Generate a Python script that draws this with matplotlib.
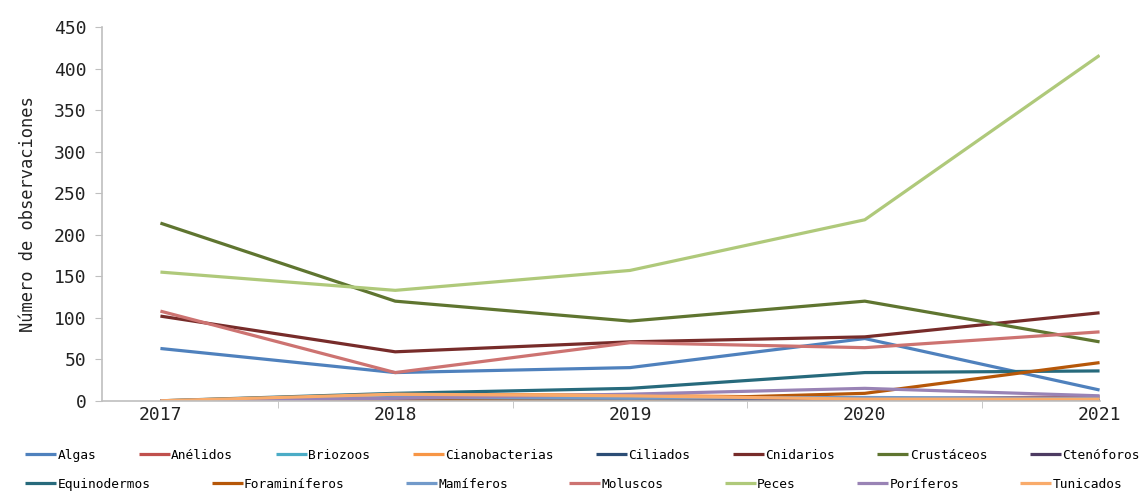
import matplotlib
matplotlib.use("Agg")
import matplotlib.pyplot as plt
from matplotlib.ticker import FixedLocator

plt.rcParams["font.family"] = ["DejaVu Sans Mono"]

years = ["2017", "2018", "2019", "2020", "2021"]

algas = [63, 34, 40, 75, 13]
anelidos = [0, 1, 1, 2, 5]
briozoos = [0, 0, 0, 0, 0]
cianobacterias = [0, 8, 7, 3, 1]
ciliados = [0, 1, 0, 0, 0]
cnidarios = [102, 59, 71, 77, 106]
crustaceos = [214, 120, 96, 120, 71]
ctenoforos = [0, 2, 1, 0, 0]
equinodermos = [0, 9, 15, 34, 36]
foraminiferos = [0, 0, 1, 9, 46]
mamiferos = [0, 4, 3, 4, 3]
moluscos = [108, 34, 70, 64, 83]
peces = [155, 133, 157, 218, 416]
poriferos = [0, 3, 8, 15, 6]
tunicados = [0, 8, 6, 2, 2]

series = [
    ("Algas", algas, "#4F81BD"),
    ("Anélidos", anelidos, "#C0504D"),
    ("Briozoos", briozoos, "#4BACC6"),
    ("Cianobacterias", cianobacterias, "#F79646"),
    ("Ciliados", ciliados, "#2C4D75"),
    ("Cnidarios", cnidarios, "#772C2A"),
    ("Crustáceos", crustaceos, "#5F7530"),
    ("Ctenóforos", ctenoforos, "#4D3B62"),
    ("Equinodermos", equinodermos, "#276A7C"),
    ("Foraminíferos", foraminiferos, "#B65708"),
    ("Mamíferos", mamiferos, "#729ACA"),
    ("Moluscos", moluscos, "#CD7371"),
    ("Peces", peces, "#AFC97A"),
    ("Poríferos", poriferos, "#9983B5"),
    ("Tunicados", tunicados, "#F9AB6B"),
]

fig = plt.figure(figsize=(11.43, 4.93), dpi=100)
ax = fig.add_axes([0.089, 0.187, 0.873, 0.758])

x = list(range(len(years)))
handles = []
for name, vals, color in series:
    h, = ax.plot(x, vals, color=color, lw=2.3, label=name, solid_capstyle="butt")
    handles.append(h)

ax.set_xlim(-0.25, 4.0)
ax.set_ylim(0, 450)
ax.set_yticks(range(0, 451, 50))
ax.set_xticks(x)
ax.set_xticklabels(years, fontsize=13, color="#222222")
ax.tick_params(axis="x", which="major", length=0, pad=4)
ax.xaxis.set_minor_locator(FixedLocator([0.5, 1.5, 2.5, 3.5]))
ax.tick_params(axis="x", which="minor", length=5, color="#BFBFBF")
ax.tick_params(axis="y", length=5, color="#BFBFBF", labelsize=13,
               labelcolor="#222222", pad=6)
ax.set_ylabel("Número de observaciones", fontsize=12.3, color="#222222", labelpad=12)

for side in ["top", "right"]:
    ax.spines[side].set_visible(False)
for side in ["left", "bottom"]:
    ax.spines[side].set_color("#BFBFBF")
    ax.spines[side].set_linewidth(1.2)

# two legend rows laid out independently
leg_kw = dict(frameon=False, fontsize=9.3, handlelength=2.4, handletextpad=0.1,
              mode="expand", borderaxespad=0, borderpad=0, loc="center left")
fig.legend(handles=handles[:8], ncol=8,
           bbox_to_anchor=(0.022, 0.077, 0.975, 0.0), **leg_kw)
fig.legend(handles=handles[8:], ncol=7,
           bbox_to_anchor=(0.022, 0.018, 0.96, 0.0), **leg_kw)

fig.savefig("out.png", dpi=100)
